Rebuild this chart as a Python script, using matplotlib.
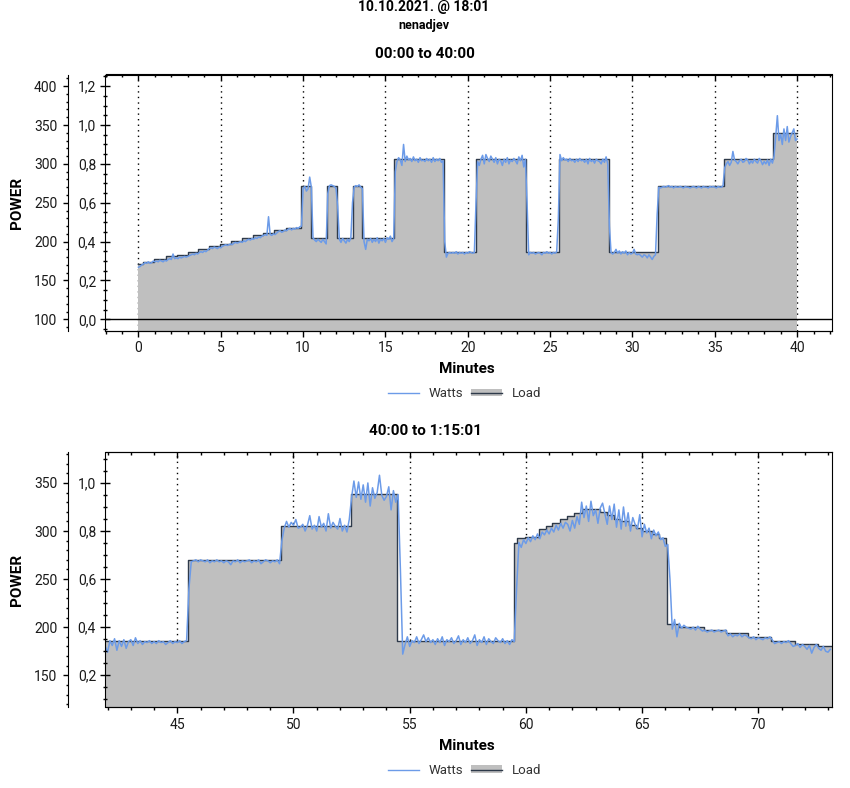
import numpy as np
import matplotlib
matplotlib.use('Agg')
from matplotlib import pyplot as plt
from matplotlib.legend_handler import HandlerTuple
from matplotlib.lines import Line2D
from matplotlib.patches import Patch
from matplotlib.ticker import MultipleLocator

plt.rcParams['font.family'] = ['Roboto', 'DejaVu Sans']

# first chart, minutes and watts for the load steps
load_t_1 = [0, 0.3, 0.97, 1.66, 2.33, 2.98, 3.64, 4.31, 4.96, 5.63, 6.28, 6.94, 7.59, 8.26, 8.95, 9.9,
            10.5, 11.48, 12.05, 13.0, 13.6, 15.55, 18.55, 20.5, 23.55, 25.55, 28.55, 31.55, 35.55, 38.55, 40]
load_w_1 = [171, 174, 177, 181, 183, 187, 191, 194, 197, 201, 204, 208, 211, 215, 218, 272,
            204, 272, 204, 272, 204, 306, 187, 306, 187, 306, 187, 272, 306, 340, 340]

# first chart, one watt reading every 0.1 minute from 0:00
watts_1 = [
    167, 168, 170, 171, 173, 172, 174, 172, 173, 175,
    174, 175, 174, 176, 175, 174, 176, 175, 177, 178,
    177, 184, 178, 179, 178, 180, 179, 180, 181, 180,
    181, 182, 183, 184, 183, 185, 184, 186, 187, 186,
    188, 187, 189, 191, 192, 191, 193, 192, 191, 193,
    192, 194, 195, 196, 195, 196, 197, 196, 198, 199,
    198, 199, 200, 199, 201, 200, 202, 203, 202, 204,
    203, 205, 204, 206, 205, 207, 208, 209, 208, 232,
    209, 208, 210, 209, 211, 213, 214, 212, 213, 215,
    214, 216, 217, 215, 217, 216, 218, 217, 219, 220,
    268, 271, 265, 268, 283, 270, 205, 202, 200, 203,
    201, 199, 203, 200, 197, 262, 272, 273, 272, 271,
    268, 245, 203, 199, 204, 201, 198, 203, 200, 205,
    250, 270, 272, 271, 273, 270, 268, 200, 190, 203,
    201, 204, 199, 203, 200, 205, 198, 203, 201, 204,
    199, 205, 203, 207, 200, 204, 290, 303, 308, 305,
    298, 325, 303, 310, 305, 307, 303, 309, 304, 306,
    302, 308, 304, 305, 303, 307, 304, 306, 302, 308,
    303, 306, 304, 307, 302, 304, 200, 180, 185, 186,
    185, 186, 185, 187, 184, 186, 185, 186, 184, 186,
    185, 187, 186, 185, 186, 250, 303, 298, 306, 311,
    300, 312, 307, 303, 310, 306, 302, 308, 300, 306,
    304, 298, 306, 302, 308, 300, 305, 303, 307, 304,
    300, 309, 304, 311, 296, 306, 250, 183, 186, 185,
    186, 184, 185, 186, 185, 183, 186, 185, 187, 185,
    186, 184, 186, 185, 187, 230, 312, 304, 308, 305,
    306, 303, 307, 304, 305, 302, 306, 303, 307, 304,
    305, 302, 306, 300, 307, 303, 305, 301, 306, 304,
    303, 300, 306, 302, 309, 300, 220, 186, 184, 186,
    190, 185, 188, 184, 187, 185, 188, 183, 186, 184,
    185, 190, 184, 183, 184, 182, 180, 183, 182, 179,
    183, 180, 177, 181, 183, 235, 270, 269, 270, 271,
    270, 271, 272, 270, 271, 269, 271, 270, 270, 271,
    270, 269, 271, 270, 270, 269, 270, 271, 270, 269,
    271, 270, 269, 271, 270, 270, 269, 271, 270, 271,
    270, 269, 271, 270, 270, 272, 295, 300, 303, 298,
    302, 316, 305, 303, 300, 304, 306, 302, 303, 307,
    305, 300, 304, 301, 306, 303, 301, 307, 304, 299,
    303, 300, 305, 298, 306, 301, 310, 335, 362, 330,
    338, 325, 345, 330, 348, 328, 335, 340, 345, 330,
    332,
]

# second chart, minutes and watts for the load steps
load_t_2 = [41.91, 45.47, 49.47, 52.46, 54.47, 59.5, 59.63, 59.96, 60.56, 60.85, 61.13, 61.45, 61.78, 62.09,
            62.42, 63.21, 63.5, 63.79, 64.07, 64.43, 64.72, 65.0, 65.44, 65.72, 66.01, 66.08, 66.59, 67.66,
            68.6, 69.57, 70.56, 71.58, 72.58, 73.16]
load_w_2 = [186, 270, 305, 339, 186, 288, 292.5, 294, 302, 305, 308, 312, 316, 319,
            323, 320, 317, 313, 310, 306, 303, 300, 297, 292.5, 287, 203, 200, 197.5,
            194, 190, 186, 183, 180, 180]

# second chart, one watt reading every 0.1 minute from 41:54
watts_2 = [
    180,
    174, 186, 181, 188, 176, 186, 180, 187, 178, 185,
    187, 181, 189, 183, 186, 182, 185, 184, 186, 183,
    185, 183, 186, 184, 185, 182, 184, 186, 183, 185,
    184, 186, 183, 185, 186, 240, 268, 269, 270, 268,
    270, 269, 268, 270, 267, 269, 268, 270, 268, 269,
    267, 269, 268, 265, 269, 268, 270, 267, 269, 268,
    269, 270, 267, 269, 268, 270, 266, 268, 270, 269,
    267, 269, 268, 270, 266, 290, 303, 310, 304, 309,
    306, 312, 303, 304, 307, 300, 306, 316, 302, 306,
    300, 315, 304, 308, 300, 318, 303, 309, 305, 302,
    313, 300, 306, 299, 312, 335, 352, 335, 351, 333,
    348, 330, 350, 326, 345, 334, 340, 358, 337, 332,
    336, 346, 322, 342, 330, 338, 260, 172, 182, 190,
    180, 186, 184, 190, 183, 187, 192, 185, 189, 184,
    187, 182, 188, 184, 190, 181, 187, 185, 189, 183,
    186, 191, 182, 187, 184, 189, 183, 186, 192, 181,
    187, 184, 190, 182, 188, 185, 183, 189, 186, 184,
    188, 183, 186, 182, 187, 185, 240, 288, 283, 291,
    287, 293, 289, 295, 291, 297, 292, 299, 296, 301,
    297, 303, 299, 306, 301, 308, 303, 309, 307, 300,
    311, 303, 315, 307, 330, 314, 326, 310, 331, 316,
    322, 308, 324, 329, 318, 307, 326, 312, 328, 304,
    322, 302, 325, 305, 319, 300, 314, 307, 302, 317,
    294, 307, 298, 303, 292, 301, 295, 299, 291, 293,
    284, 286, 250, 198, 208, 190, 204, 199, 202, 200,
    199, 198, 200, 197, 201, 198, 196, 197, 195, 196,
    197, 195, 196, 197, 195, 196, 197, 191, 193, 190,
    192, 191, 193, 190, 192, 191, 189, 188, 190, 187,
    189, 188, 187, 189, 188, 190, 187, 183, 184, 185,
    183, 185, 184, 186, 183, 180, 181, 183, 179, 182,
    180, 177, 181, 173, 179, 182, 178, 176, 180, 175,
    174, 177,
]

xticks_1 = [0, 5, 10, 15, 20, 25, 30, 35, 40]
xticks_2 = [45, 50, 55, 60, 65, 70]
wticks_1 = [100, 150, 200, 250, 300, 350, 400]
wticks_2 = [150, 200, 250, 300, 350]
lticks_1 = [0.0, 0.2, 0.4, 0.6, 0.8, 1.0, 1.2]
lticks_2 = [0.2, 0.4, 0.6, 0.8, 1.0]
llabels_1 = ['0,0', '0,2', '0,4', '0,6', '0,8', '1,0', '1,2']
llabels_2 = ['0,2', '0,4', '0,6', '0,8', '1,0']

WIDTH, HEIGHT = 850, 788
BLUE = '#6C9BE8'
DARK = '#2E3A4A'
GRAY = '#BFBFBF'
TEXT = '#1A1A1A'

fig = plt.figure(figsize=(WIDTH / 100, HEIGHT / 100), dpi=100)


def panel(top, bottom, xlim, ylim, t0, watts, load_t, load_w, xticks, wticks, lticks, llabels, title):
    left, right = 105.5, 831.7
    ax = fig.add_axes([left / WIDTH, 1 - bottom / HEIGHT, (right - left) / WIDTH, (bottom - top) / HEIGHT])
    ax.set_xlim(xlim)
    ax.set_ylim(ylim)

    ax.xaxis.grid(True, which='major', linestyle=(0, (1, 3)), color='black', linewidth=1)
    ax.set_axisbelow(True)

    ax.fill_between(load_t, load_w, ylim[0], step='post', color=GRAY, linewidth=0, zorder=2)
    ax.plot(load_t, load_w, drawstyle='steps-post', color=DARK, linewidth=1.0, zorder=3)
    t = t0 + 0.1 * np.arange(len(watts))
    ax.plot(t, watts, color=BLUE, linewidth=1.1, zorder=4)
    if ylim[0] < 100:
        ax.axhline(100, color='black', linewidth=1, zorder=5)

    # watts axis, moved out to the left of the load axis
    ax.spines['left'].set_position(('outward', 27))
    ax.spines['top'].set_visible(False)
    ax.spines['right'].set_visible(False)
    ax.set_yticks(wticks)
    ax.yaxis.set_minor_locator(MultipleLocator(10))
    ax.tick_params(axis='y', which='major', length=3.6, width=1, pad=4, labelsize=10, labelcolor=TEXT)
    ax.tick_params(axis='y', which='minor', length=1.8, width=1)
    ax.set_xticks(xticks)
    ax.xaxis.set_minor_locator(MultipleLocator(1))
    ax.tick_params(axis='x', which='major', length=4, width=1, pad=3.5, labelsize=10, labelcolor=TEXT)
    ax.tick_params(axis='x', which='minor', length=2.5, width=1)

    # load axis sits on the frame
    ax2 = ax.twinx()
    ax2.set_ylim((ylim[0] - 100) / 250, (ylim[1] - 100) / 250)
    ax2.yaxis.tick_left()
    ax2.set_yticks(lticks)
    ax2.set_yticklabels(llabels)
    ax2.yaxis.set_minor_locator(MultipleLocator(0.05))
    ax2.tick_params(axis='y', which='major', direction='inout', length=7.5, width=1, pad=3, labelsize=10, labelcolor=TEXT)
    ax2.tick_params(axis='y', which='minor', direction='inout', length=3, width=1)

    top_ax = ax.secondary_xaxis('top')
    top_ax.set_xticks(xticks)
    top_ax.set_xticklabels([])
    top_ax.xaxis.set_minor_locator(MultipleLocator(1))
    top_ax.tick_params(axis='x', which='major', direction='in', length=4, width=1)
    top_ax.tick_params(axis='x', which='minor', direction='in', length=2.5, width=1)

    fig.text(425 / WIDTH, 1 - (top - 20.5) / HEIGHT, title, ha='center', va='center', fontsize=11, fontweight='bold')
    fig.text(466.5 / WIDTH, 1 - (bottom + 38.5) / HEIGHT, 'Minutes', ha='center', va='center', fontsize=11, fontweight='bold')
    fig.text(17 / WIDTH, 1 - (top + bottom) / 2 / HEIGHT, 'POWER', rotation=90, ha='center', va='center', fontsize=11, fontweight='bold')

    handles = [Line2D([], [], color=BLUE, linewidth=1.0),
               (Patch(facecolor=GRAY, edgecolor='none'), Line2D([], [], color=DARK, linewidth=1.0))]
    ax.legend(handles, ['Watts', 'Load'], handler_map={tuple: HandlerTuple(ndivide=1, pad=0)},
              loc='center', bbox_to_anchor=(464.5 / WIDTH, 1 - (bottom + 63) / HEIGHT),
              bbox_transform=fig.transFigure, ncol=2, frameon=False, fontsize=9.5, labelcolor='#333333',
              handlelength=2.35, handleheight=0.5, handletextpad=0.7, columnspacing=0.65, borderpad=0)


fig.text(424 / WIDTH, 1 - 6.5 / HEIGHT, '10.10.2021. @ 18:01', ha='center', va='center', fontsize=10, fontweight='bold')
fig.text(424 / WIDTH, 1 - 25 / HEIGHT, 'nenadjev', ha='center', va='center', fontsize=9, fontweight='bold')

panel(74.5, 330.5, (-2.0, 42.1), (85.6, 415.0), 0.0, watts_1, load_t_1, load_w_1,
      xticks_1, wticks_1, lticks_1, llabels_1, '00:00 to 40:00')
panel(451.7, 707.3, (41.91, 73.16), (116.7, 382.5), 41.9, watts_2, load_t_2, load_w_2,
      xticks_2, wticks_2, lticks_2, llabels_2, '40:00 to 1:15:01')

fig.savefig('out.png', dpi=100)
